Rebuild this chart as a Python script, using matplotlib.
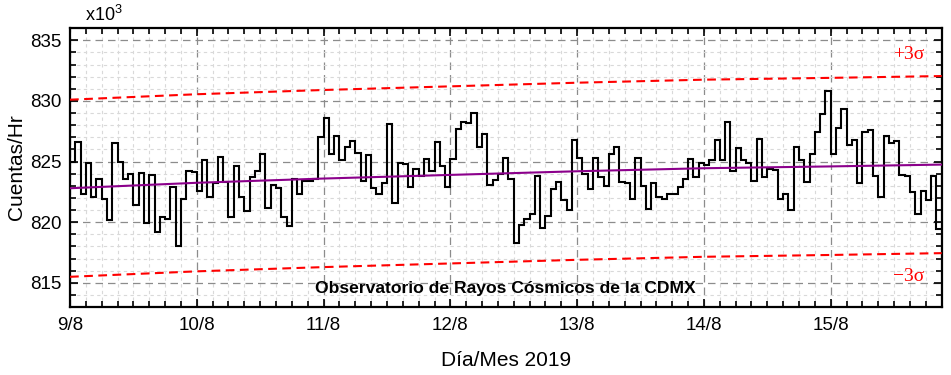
import numpy as np
import matplotlib
matplotlib.use("Agg")
import matplotlib.pyplot as plt
from matplotlib.ticker import MultipleLocator

plt.rcParams['font.family'] = ['Liberation Sans', 'DejaVu Sans']
plt.rcParams['mathtext.fontset'] = 'custom'
plt.rcParams['mathtext.rm'] = 'Liberation Sans'

# hourly counts (x10^3), starting 9/8/2019 00:00
counts = [
    825.0, 826.6, 822.3, 824.9, 822.1, 823.6, 821.9, 820.2, 826.5, 825.0,
    823.6, 824.0, 821.4, 824.05, 819.9, 823.9, 819.2, 820.4, 820.3, 822.9,
    818.0, 821.9, 824.2, 824.1, 822.6, 825.1, 822.1, 823.2, 825.4, 823.3,
    820.4, 824.6, 822.1, 820.9, 823.7, 824.2, 825.6, 821.2, 823.1, 822.8,
    820.4, 819.7, 823.6, 822.3, 823.4, 823.4, 823.6, 827.0, 828.6, 825.6,
    827.1, 825.1, 826.2, 826.7, 825.7, 823.4, 825.5, 822.8, 822.3, 823.2,
    828.1, 821.6, 824.9, 824.8, 822.9, 824.4, 823.8, 825.2, 824.2, 826.6,
    824.6, 822.9, 825.2, 827.7, 828.3, 828.2, 829.0, 826.2, 827.3, 823.1,
    823.5, 824.0, 825.3, 823.6, 818.3, 819.8, 820.3, 820.7, 823.8, 819.5,
    820.5, 822.7, 823.3, 821.8, 821.0, 826.8, 825.3, 824.0, 822.7, 825.3,
    823.7, 823.0, 825.6, 826.2, 823.3, 823.2, 821.9, 825.3, 823.0, 821.1,
    823.2, 822.1, 821.9, 822.3, 822.3, 822.9, 823.6, 825.2, 823.7, 824.9,
    824.7, 825.1, 826.8, 825.1, 828.3, 824.2, 826.1, 825.1, 824.9, 823.4,
    826.9, 823.75, 824.4, 824.3, 821.9, 822.3, 821.0, 826.2, 825.1, 823.3,
    825.6, 827.4, 828.9, 830.8, 825.6, 827.8, 829.3, 826.4, 826.8, 823.2,
    827.4, 827.6, 823.8, 822.1, 827.1, 826.5, 826.7, 823.9, 823.8, 822.5,
    820.7, 822.6, 821.8, 823.8, 819.4,
]

# trend line read at each day (hours from start)
trend_hours = [0, 24, 48, 72, 96, 120, 144, 165]
trend_values = [822.8, 823.25, 823.6, 823.9, 824.2, 824.45, 824.6, 824.75]
sigma3 = 7.3

day_ticks = [0, 24, 48, 72, 96, 120, 144]
day_labels = ['9/8', '10/8', '11/8', '12/8', '13/8', '14/8', '15/8']

edges = np.arange(len(counts) + 1)
trend_h = np.array(trend_hours)
trend_v = np.array(trend_values)

fig = plt.figure(figsize=(9.51, 3.75), dpi=100)
ax = fig.add_axes([0.0736, 0.181, 0.9166, 0.744])

ax.stairs(counts, edges, baseline=None, color='black', lw=1.5, zorder=4)
ax.plot(trend_h, trend_v, color='#8b008b', lw=1.5, zorder=5)
ax.plot(trend_h, trend_v + sigma3, color='red', lw=1.5, dashes=(4.2, 2.6), zorder=3)
ax.plot(trend_h, trend_v - sigma3, color='red', lw=1.5, dashes=(4.2, 2.6), zorder=3)

ax.set_xlim(0, 165)
ax.set_ylim(813, 836)
ax.set_xticks(day_ticks)
ax.set_xticklabels(day_labels)
ax.xaxis.set_minor_locator(MultipleLocator(3))
ax.yaxis.set_major_locator(MultipleLocator(5))
ax.yaxis.set_minor_locator(MultipleLocator(1))

ax.grid(which='minor', color='#d9d9d9', ls=(0, (3, 3)), lw=0.8, zorder=0)
ax.grid(which='major', color='#8c8c8c', ls=(0, (6, 4)), lw=0.9, zorder=1)

ax.tick_params(which='both', direction='in', top=True, right=True,
               labelsize=13.5, width=1.2)
ax.tick_params(which='major', length=6)
ax.tick_params(which='minor', length=4)
ax.tick_params(axis='y', pad=6)
ax.tick_params(axis='x', pad=7)
for s in ax.spines.values():
    s.set_linewidth(1.6)

ax.set_xlabel('Día/Mes 2019', fontsize=15, labelpad=12)
ax.set_ylabel('Cuentas/Hr', fontsize=15)
ax.yaxis.set_label_coords(-0.051, 0.5)
ax.text(0.017, 1.012, r'x10$^{\mathrm{3}}$', transform=ax.transAxes,
        fontsize=13, ha='left', va='bottom')

ax.text(158.7, 833.8, '+3σ', color='red', fontsize=14, ha='center',
        va='center', family='Liberation Serif')
ax.text(158.7, 815.5, '\u22123σ', color='red', fontsize=14, ha='center',
        va='center', family='Liberation Serif')
ax.text(82.4, 814.5, 'Observatorio de Rayos Cósmicos de la CDMX',
        fontsize=12.6, fontweight='bold', ha='center', va='center', zorder=6)

fig.savefig('out.png', dpi=100)
